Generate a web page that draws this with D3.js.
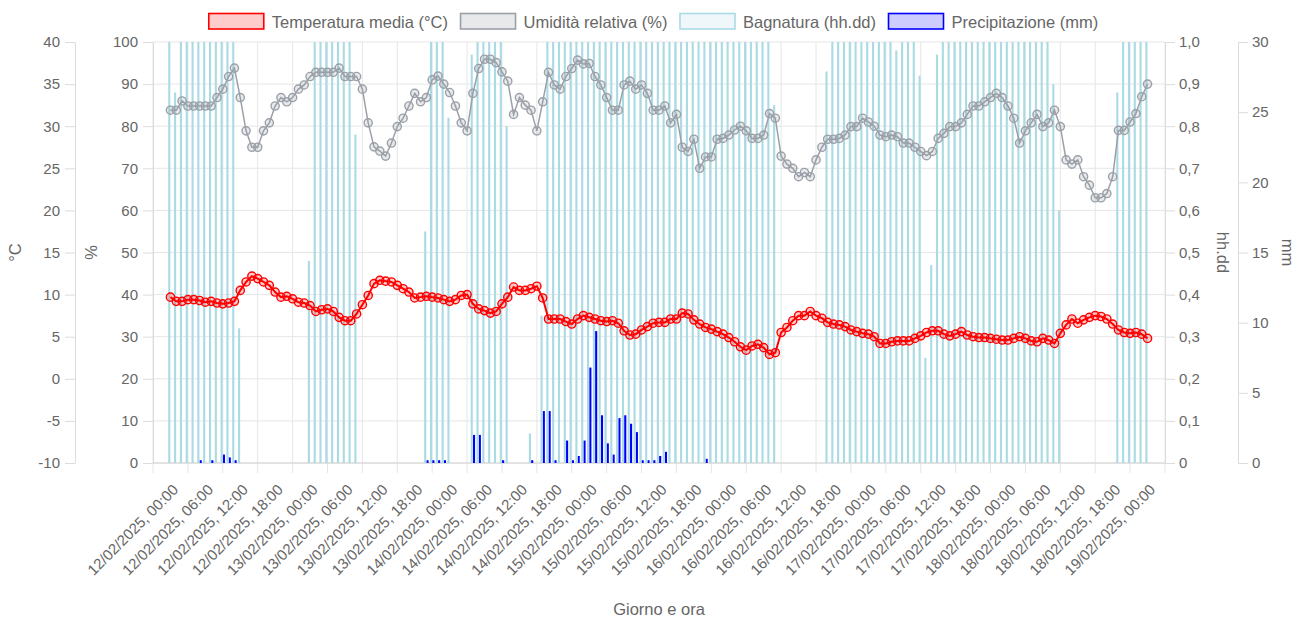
<!DOCTYPE html>
<html><head><meta charset="utf-8">
<script src="https://cdn.jsdelivr.net/npm/d3@7"></script>
<style>
html,body{margin:0;padding:0;background:#fff;}
svg{display:block;font-family:"Liberation Sans",Arial,Helvetica,sans-serif;}
</style></head><body>
<svg id="chart" width="1299" height="619"></svg>
<script>
// ---------------- DATA ----------------
const startLabel = "12/02/2025, 00:00"; // first hourly reading
const xTickLabels = [
  "12/02/2025, 00:00","12/02/2025, 06:00","12/02/2025, 12:00","12/02/2025, 18:00",
  "13/02/2025, 00:00","13/02/2025, 06:00","13/02/2025, 12:00","13/02/2025, 18:00",
  "14/02/2025, 00:00","14/02/2025, 06:00","14/02/2025, 12:00","14/02/2025, 18:00",
  "15/02/2025, 00:00","15/02/2025, 06:00","15/02/2025, 12:00","15/02/2025, 18:00",
  "16/02/2025, 00:00","16/02/2025, 06:00","16/02/2025, 12:00","16/02/2025, 18:00",
  "17/02/2025, 00:00","17/02/2025, 06:00","17/02/2025, 12:00","17/02/2025, 18:00",
  "18/02/2025, 00:00","18/02/2025, 06:00","18/02/2025, 12:00","18/02/2025, 18:00",
  "19/02/2025, 00:00"
];
const temperature = [
  9.7, 9.2, 9.2, 9.4, 9.4, 9.3, 9.1, 9.2, 9.0, 8.9, 9.0, 9.2,
  10.5, 11.5, 12.2, 11.9, 11.5, 11.1, 10.3, 9.7, 9.8, 9.5, 9.1, 9.0,
  8.7, 8.0, 8.2, 8.3, 8.0, 7.3, 6.9, 6.9, 7.7, 8.8, 9.9, 11.3,
  11.7, 11.6, 11.5, 11.1, 10.7, 10.3, 9.6, 9.7, 9.8, 9.7, 9.6, 9.4,
  9.2, 9.4, 9.9, 10.0, 8.9, 8.3, 8.1, 7.8, 8.0, 8.9, 9.7, 10.9,
  10.5, 10.5, 10.7, 11.0, 9.6, 7.1, 7.1, 7.1, 6.8, 6.5, 7.1, 7.5,
  7.3, 7.1, 6.9, 6.8, 6.9, 6.6, 5.7, 5.2, 5.3, 5.8, 6.2, 6.6,
  6.7, 6.7, 7.1, 7.1, 7.8, 7.7, 7.0, 6.5, 6.1, 5.9, 5.6, 5.3,
  4.9, 4.4, 3.8, 3.4, 3.9, 4.1, 3.7, 2.9, 3.1, 5.5, 6.1, 6.9,
  7.5, 7.5, 8.0, 7.5, 7.2, 6.7, 6.5, 6.4, 6.2, 5.8, 5.6, 5.4,
  5.3, 5.0, 4.2, 4.2, 4.4, 4.5, 4.5, 4.5, 4.8, 5.1, 5.5, 5.7,
  5.7, 5.3, 5.1, 5.3, 5.6, 5.2, 5.0, 4.9, 4.9, 4.8, 4.7, 4.6,
  4.6, 4.8, 5.0, 4.8, 4.5, 4.4, 4.8, 4.6, 4.2, 5.4, 6.4, 7.1,
  6.6, 7.0, 7.3, 7.5, 7.4, 7.1, 6.5, 5.8, 5.5, 5.4, 5.5, 5.3,
  4.8
];
const humidity = [
  83.8, 83.8, 86.0, 84.8, 84.8, 84.8, 84.8, 84.8, 86.8, 88.8, 91.8, 93.8,
  86.8, 78.9, 75.0, 75.0, 78.9, 80.8, 84.8, 86.8, 85.8, 86.8, 88.8, 89.8,
  91.8, 92.8, 92.8, 92.8, 92.8, 93.8, 91.8, 91.8, 91.8, 88.8, 80.8, 75.1,
  74.1, 72.9, 76.0, 79.9, 81.9, 84.8, 87.8, 85.8, 86.8, 91.0, 91.9, 90.0,
  88.0, 84.8, 80.8, 78.9, 87.8, 93.7, 95.9, 95.9, 95.1, 92.9, 90.7, 82.8,
  86.8, 85.0, 83.8, 78.9, 85.8, 92.8, 89.8, 88.8, 91.8, 93.7, 95.7, 94.8,
  94.9, 91.8, 89.8, 86.8, 83.8, 83.8, 89.8, 90.7, 88.8, 89.8, 87.8, 83.8,
  83.8, 84.8, 80.8, 82.8, 75.0, 74.0, 76.9, 70.0, 72.7, 72.7, 76.9, 77.1,
  77.9, 79.1, 80.0, 78.9, 77.1, 77.1, 77.9, 83.0, 81.9, 72.9, 71.0, 70.0,
  68.0, 69.0, 68.0, 72.0, 75.0, 76.9, 76.9, 77.1, 77.9, 79.9, 79.9, 81.9,
  81.0, 80.0, 77.9, 77.5, 77.9, 77.5, 76.0, 76.0, 75.0, 74.0, 73.0, 74.0,
  77.1, 78.3, 79.9, 79.9, 80.8, 82.8, 84.8, 84.8, 85.8, 86.8, 87.8, 86.8,
  84.8, 81.9, 76.0, 78.9, 80.8, 82.8, 79.9, 80.8, 83.8, 79.9, 72.0, 71.0,
  72.0, 68.0, 66.0, 63.0, 63.0, 64.0, 68.0, 79.0, 79.0, 81.0, 83.0, 87.0,
  90.0
];
const wetness = [
  1, 0.88, 1, 1, 1, 1, 1, 1, 1, 1, 1, 1,
  0.32, 0, 0, 0, 0, 0, 0, 0, 0, 0, 0, 0,
  0.48, 1, 1, 1, 1, 1, 1, 1, 0.78, 0, 0, 0,
  0, 0, 0, 0, 0, 0, 0, 0, 0.55, 1, 1, 1,
  0.82, 0, 0, 0, 0.97, 1, 1, 1, 1, 1, 0.80, 0,
  0, 0, 0.07, 0, 0.35, 1, 1, 1, 1, 1, 1, 1,
  1, 1, 1, 1, 1, 1, 1, 1, 1, 1, 1, 1,
  1, 1, 1, 1, 1, 1, 1, 1, 1, 1, 1, 1,
  1, 1, 1, 1, 1, 1, 1, 1, 0.85, 0, 0, 0,
  0, 0, 0, 0, 0, 0.93, 1, 1, 1, 1, 1, 1,
  1, 1, 1, 1, 1, 0.98, 1, 1, 1, 0.92, 0.25, 0.47,
  0.97, 1, 1, 1, 1, 1, 1, 1, 1, 1, 1, 1,
  1, 1, 1, 1, 1, 1, 1, 1, 0.90, 0.60, 0, 0,
  0, 0, 0, 0, 0, 0, 0, 0.88, 1, 1, 1, 1,
  1
];
const precipitation = [
  0, 0, 0, 0, 0, 0.2, 0, 0.2, 0, 0.6, 0.4, 0.2,
  0, 0, 0, 0, 0, 0, 0, 0, 0, 0, 0, 0,
  0, 0, 0, 0, 0, 0, 0, 0, 0, 0, 0, 0,
  0, 0, 0, 0, 0, 0, 0, 0, 0.2, 0.2, 0.2, 0.2,
  0, 0, 0, 0, 2.0, 2.0, 0, 0, 0, 0.2, 0, 0,
  0, 0, 0.2, 0, 3.7, 3.7, 0.2, 0, 1.6, 0.2, 0.5, 1.6,
  6.8, 9.4, 3.4, 1.4, 0.6, 3.2, 3.4, 2.8, 2.2, 0.2, 0.2, 0.2,
  0.5, 0.8, 0, 0, 0, 0, 0, 0, 0.3, 0, 0, 0,
  0, 0, 0, 0, 0, 0, 0, 0, 0, 0, 0, 0,
  0, 0, 0, 0, 0, 0, 0, 0, 0, 0, 0, 0,
  0, 0, 0, 0, 0, 0, 0, 0, 0, 0, 0, 0,
  0, 0, 0, 0, 0, 0, 0, 0, 0, 0, 0, 0,
  0, 0, 0, 0, 0, 0, 0, 0, 0, 0, 0, 0,
  0, 0, 0, 0, 0, 0, 0, 0, 0, 0, 0, 0,
  0
];
const tempTicks = [-10, -5, 0, 5, 10, 15, 20, 25, 30, 35, 40];
const humTicks = [0, 10, 20, 30, 40, 50, 60, 70, 80, 90, 100];
const wetTicks = [0, 0.1, 0.2, 0.3, 0.4, 0.5, 0.6, 0.7, 0.8, 0.9, 1.0];
const rainTicks = [0, 5, 10, 15, 20, 25, 30];
const seriesNames = ["Temperatura media (°C)", "Umidità relativa (%)", "Bagnatura (hh.dd)", "Precipitazione (mm)"];
const axisTitles = { temp: "°C", hum: "%", wet: "hh.dd", rain: "mm", x: "Giorno e ora" };

// ---------------- LAYOUT / STYLE ----------------
const L = 153, R = 1165, T = 42, B = 463;
const textCol = "#666", gridCol = "#e6e6e6", axisCol = "#dcdcdc";
const tickFont = "15px", bigFont = "16.5px";
const colTemp = "rgb(255,0,0)", fillTemp = "rgba(255,0,0,0.2)";
const colHum = "rgb(155,160,168)", fillHum = "rgba(150,155,165,0.22)";
const colWet = "rgb(170,218,227)", fillWet = "rgba(173,216,230,0.2)";
const colRain = "rgb(0,0,255)", fillRain = "rgba(0,0,255,0.2)";

const svg = d3.select("#chart");
const parse = d3.timeParse("%d/%m/%Y, %H:%M");
const t0 = parse(startLabel);
const times = temperature.map((_, i) => d3.timeHour.offset(t0, i));
const tickTimes = xTickLabels.map(parse);
const halfStep = (tickTimes[1] - tickTimes[0]) / 2;

const x = d3.scaleTime()
  .domain([new Date(+tickTimes[0] - halfStep), new Date(+tickTimes[tickTimes.length - 1] + halfStep)])
  .range([L, R]);
const yT = d3.scaleLinear().domain([-10, 40]).range([B, T]);
const yH = d3.scaleLinear().domain([0, 100]).range([B, T]);
const yW = d3.scaleLinear().domain([0, 1]).range([B, T]);
const yP = d3.scaleLinear().domain([0, 30]).range([B, T]);

// ---------- grid ----------
const grid = svg.append("g");
const halfPx = (x(tickTimes[1]) - x(tickTimes[0])) / 2;
const vGrid = tickTimes.map(t => x(t) - halfPx).concat([x(tickTimes[tickTimes.length - 1]) + halfPx]);
grid.selectAll("line.v").data(vGrid).join("line")
  .attr("x1", d => d).attr("x2", d => d).attr("y1", T).attr("y2", B + 10)
  .attr("stroke", gridCol).attr("stroke-width", 1);
grid.selectAll("line.h").data(humTicks).join("line")
  .attr("x1", L).attr("x2", R).attr("y1", d => yH(d)).attr("y2", d => yH(d))
  .attr("stroke", gridCol).attr("stroke-width", 1);

// ---------- axes ----------
function styleAxis(g) {
  g.select(".domain").attr("stroke", axisCol);
  g.selectAll(".tick line").attr("stroke", axisCol);
  g.selectAll(".tick text").attr("fill", textCol).style("font-size", tickFont)
    .style("font-family", '"Liberation Sans",Arial,sans-serif');
}
const fmtInt = v => String(v);
const fmtComma = v => v === 0 ? "0" : d3.format(".1f")(v).replace(".", ",");

svg.append("g").attr("transform", "translate(75,0)")
  .call(d3.axisLeft(yT).tickValues(tempTicks).tickSize(10).tickSizeOuter(0).tickPadding(5).tickFormat(fmtInt))
  .call(styleAxis);
svg.append("g").attr("transform", `translate(${L},0)`)
  .call(d3.axisLeft(yH).tickValues(humTicks).tickSize(10).tickSizeOuter(0).tickPadding(5).tickFormat(fmtInt))
  .call(styleAxis);
svg.append("g").attr("transform", `translate(${R},0)`)
  .call(d3.axisRight(yW).tickValues(wetTicks).tickSize(10).tickSizeOuter(0).tickPadding(4).tickFormat(fmtComma))
  .call(styleAxis);
svg.append("g").attr("transform", "translate(1238,0)")
  .call(d3.axisRight(yP).tickValues(rainTicks).tickSize(10).tickSizeOuter(0).tickPadding(4).tickFormat(fmtInt))
  .call(styleAxis);

// x axis baseline
svg.append("line").attr("x1", L).attr("x2", R).attr("y1", B).attr("y2", B)
  .attr("stroke", "#d2d2d2").attr("stroke-width", 1);

// x tick labels (rotated)
svg.append("g").selectAll("text").data(xTickLabels).join("text")
  .attr("transform", (d, i) => `translate(${x(tickTimes[i]) + 5},487) rotate(-45)`)
  .attr("text-anchor", "end").attr("dy", "0.35em")
  .attr("fill", textCol).style("font-size", tickFont)
  .text(d => d);

// axis titles
function title(txt, tx, ty, rot) {
  svg.append("text").attr("transform", `translate(${tx},${ty}) rotate(${rot})`)
    .attr("text-anchor", "middle").attr("dominant-baseline", "central")
    .attr("fill", textCol).style("font-size", bigFont).text(txt);
}
title(axisTitles.temp, 15, 252.5, -90);
title(axisTitles.hum, 91, 252.5, -90);
title(axisTitles.wet, 1223, 252.5, 90);
title(axisTitles.rain, 1288, 252.5, 90);
svg.append("text").attr("x", (L + R) / 2).attr("y", 609).attr("text-anchor", "middle")
  .attr("dominant-baseline", "central").attr("fill", textCol).style("font-size", bigFont).text(axisTitles.x);

// ---------- bars ----------
const catW = x(d3.timeHour.offset(t0, 1)) - x(t0);
const barW = catW * 0.8 / 2 * 0.9;
const slot = catW * 0.8 / 2;
const rainData = precipitation.map((v, i) => ({ t: times[i], v })).filter(d => d.v > 0);
const wetData = wetness.map((v, i) => ({ t: times[i], v })).filter(d => d.v > 0);
svg.append("g").selectAll("rect").data(rainData).join("rect")
  .attr("x", d => x(d.t) + (slot - barW) / 2).attr("width", barW)
  .attr("y", d => yP(d.v)).attr("height", d => B - yP(d.v))
  .attr("fill", colRain);
svg.append("g").selectAll("rect").data(wetData).join("rect")
  .attr("x", d => x(d.t) - slot + (slot - barW) / 2).attr("width", barW)
  .attr("y", d => yW(d.v)).attr("height", d => B - yW(d.v))
  .attr("fill", colWet);

// ---------- lines ----------
function drawLine(values, yScale, stroke, fill, lw) {
  const g = svg.append("g");
  const data = values.map((v, i) => ({ t: times[i], v }));
  g.append("path").datum(data)
    .attr("d", d3.line().x(d => x(d.t)).y(d => yScale(d.v)))
    .attr("fill", "none").attr("stroke", stroke).attr("stroke-width", lw);
  g.selectAll("circle").data(data).join("circle")
    .attr("cx", d => x(d.t)).attr("cy", d => yScale(d.v)).attr("r", 4.1)
    .attr("fill", fill).attr("stroke", stroke).attr("stroke-width", 1.4);
}
drawLine(humidity, yH, colHum, fillHum, 1.5);
drawLine(temperature, yT, colTemp, fillTemp, 2);

// ---------- legend ----------
const legendStyles = [
  { fill: fillTemp, stroke: colTemp },
  { fill: fillHum, stroke: colHum },
  { fill: fillWet, stroke: colWet },
  { fill: fillRain, stroke: colRain }
];
const lg = svg.append("g");
const items = seriesNames.map((name, i) => {
  const g = lg.append("g");
  g.append("rect").attr("x", 0).attr("y", 13.5).attr("width", 55).attr("height", 15.5)
    .attr("fill", legendStyles[i].fill).attr("stroke", legendStyles[i].stroke).attr("stroke-width", 1.6);
  const t = g.append("text").attr("x", 63).attr("y", 21.5).attr("dominant-baseline", "central")
    .attr("fill", textCol).style("font-size", bigFont).text(name);
  return { g, w: 63 + t.node().getComputedTextLength() };
});
const gap = 12.5;
const total = d3.sum(items, d => d.w) + gap * (items.length - 1);
let cx = 653.5 - total / 2;
items.forEach(it => { it.g.attr("transform", `translate(${cx},0)`); cx += it.w + gap; });
</script>
</body></html>
